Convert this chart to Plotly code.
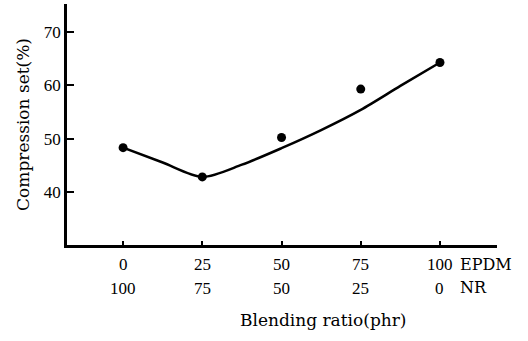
import plotly.graph_objects as go

# Measured points
epdm = [0, 25, 50, 75, 100]
nr = [100, 75, 50, 25, 0]
compression_set = [48.3, 42.8, 50.2, 59.3, 64.3]

# Hand-drawn trend curve
curve_x = [0, 12.5, 25, 37.5, 50, 62.5, 75, 87.5, 100]
curve_y = [48.3, 45.5, 42.8, 45.1, 48.2, 51.6, 55.4, 59.9, 64.3]

y_ticks = [40, 50, 60, 70]

SERIF = "Liberation Serif"
WIDE = "DejaVu Serif"

fig = go.Figure()
fig.add_trace(go.Scatter(x=curve_x, y=curve_y, mode="lines",
                         line=dict(color="black", width=2.5, shape="spline", smoothing=0.8),
                         hoverinfo="skip", showlegend=False))
fig.add_trace(go.Scatter(x=epdm, y=compression_set, mode="markers",
                         marker=dict(color="black", size=9), showlegend=False))

annotations = []
for e, n in zip(epdm, nr):
    annotations.append(dict(x=e, y=-0.08, xref="x", yref="paper", text=str(e),
                            showarrow=False, xanchor="center", yanchor="middle",
                            font=dict(family=SERIF, size=17, color="black")))
    annotations.append(dict(x=e, y=-0.18, xref="x", yref="paper", text=str(n),
                            showarrow=False, xanchor="center", yanchor="middle",
                            font=dict(family=SERIF, size=17, color="black")))
annotations.append(dict(x=458, y=264, xref="paper", yref="paper", text="EPDM", showarrow=False))
annotations.append(dict(x=458, y=287, xref="paper", yref="paper", text="NR", showarrow=False))

fig.update_layout(
    width=528, height=341,
    margin=dict(l=67, r=31, t=4, b=96),
    paper_bgcolor="white", plot_bgcolor="white",
    xaxis=dict(range=[-17.7, 118], showgrid=False, zeroline=False,
               showline=True, linecolor="black", linewidth=2.5,
               tickvals=epdm, showticklabels=False,
               ticks="inside", ticklen=4, tickwidth=1.5, tickcolor="black"),
    yaxis=dict(range=[30, 75.3], showgrid=False, zeroline=False,
               showline=True, linecolor="black", linewidth=2.5,
               tickvals=y_ticks, ticks="inside", ticklen=7, tickwidth=1.5, tickcolor="black",
               tickfont=dict(family=SERIF, size=17, color="black"),
               title=dict(text="Compression set(%)", standoff=10,
                          font=dict(family=WIDE, size=17, color="black"))),
)

# convert EPDM / NR label pixel positions into paper coordinates
H_plot = 341 - 4 - 96
W_plot = 528 - 67 - 31
fixed = []
for a in annotations:
    if a["xref"] == "paper":
        a["x"] = (a["x"] - 67) / W_plot
        a["y"] = 1 - (a["y"] - 4) / H_plot
        a["xanchor"] = "left"
        a["yanchor"] = "middle"
        a["font"] = dict(family=WIDE, size=16, color="black")
    fixed.append(a)
fixed.append(dict(x=63, y=1 - (320 - 4) / H_plot, xref="x", yref="paper",
                  text="Blending ratio(phr)", showarrow=False,
                  xanchor="center", yanchor="middle",
                  font=dict(family=WIDE, size=17, color="black")))
fig.update_layout(annotations=fixed)

fig.write_html("out.html")
